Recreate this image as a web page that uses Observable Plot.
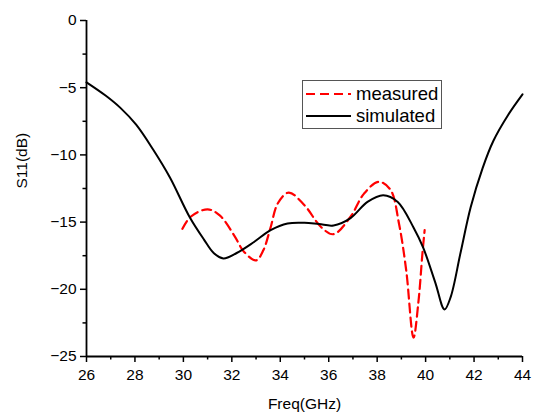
<!DOCTYPE html>
<html>
<head>
<meta charset="utf-8">
<script src="https://cdn.jsdelivr.net/npm/d3@7"></script>
<script src="https://cdn.jsdelivr.net/npm/@observablehq/plot@0.6"></script>
<style>
  body { margin: 0; background: #fff; }
  #wrap { position: relative; width: 539px; height: 414px; font-family: "Liberation Sans", Arial, sans-serif; }
  #legend { position: absolute; left: 302px; top: 80px; width: 138px; height: 47px; border: 1px solid #555; background: #fff; }
  .row { position: absolute; left: 0; height: 22px; display: flex; align-items: center; font-size: 18.5px; color: #000; }
  .row svg { margin-left: 3px; margin-right: 5px; }
</style>
</head>
<body>
<div id="wrap"></div>
<script>
const simFreq = [26, 26.8, 27.4, 28.05, 28.75, 29.45, 30.25, 30.85, 31.25, 31.65, 32.2, 32.9, 33.6, 34.3, 35.0, 35.6, 36.2, 36.9, 37.6, 38.25, 38.85, 39.5, 39.9, 40.4, 40.78, 41.03, 41.44, 41.86, 42.35, 42.8, 43.4, 44];
const simS11 = [-4.6, -5.6, -6.5, -7.75, -9.6, -11.7, -14.6, -16.3, -17.3, -17.7, -17.3, -16.5, -15.6, -15.1, -15.05, -15.15, -15.25, -14.7, -13.5, -13.0, -13.5, -15.4, -16.9, -19.5, -21.5, -20.6, -17.3, -13.9, -11.0, -8.95, -7.05, -5.5];
const measFreq = [29.96, 30.3, 31.0, 31.5, 32.1, 32.5, 33.0, 33.3, 33.6, 33.9, 34.35, 35.0, 35.7, 36.2, 36.9, 37.45, 38.06, 38.55, 38.9, 39.2, 39.5, 39.7, 39.87, 39.96];
const measS11 = [-15.5, -14.6, -14.05, -14.5, -16.0, -17.2, -17.85, -17.1, -15.4, -13.6, -12.8, -13.75, -15.4, -15.9, -14.6, -12.9, -12.0, -12.6, -15.1, -18.6, -23.6, -21.0, -17.3, -15.6];
const xMajor = [26, 28, 30, 32, 34, 36, 38, 40, 42, 44];
const xMinor = [27, 29, 31, 33, 35, 37, 39, 41, 43];
const yMajor = [0, -5, -10, -15, -20, -25];
const yMinor = [-2.5, -7.5, -12.5, -17.5, -22.5];
const seriesNames = ["measured", "simulated"];

const sim = simFreq.map((f, i) => ({f, s: simS11[i]}));
const meas = measFreq.map((f, i) => ({f, s: measS11[i]}));

const font = '"Liberation Sans", Arial, sans-serif';
const chart = Plot.plot({
  width: 539,
  height: 414,
  marginLeft: 86,
  marginRight: 17,
  marginTop: 20,
  marginBottom: 58,
  style: {fontFamily: font, fontSize: "15.5px", color: "#000", background: "#fff"},
  x: {domain: [26, 44]},
  y: {domain: [-25, 0]},
  marks: [
    Plot.axisX(xMajor, {tickSize: 6, tickPadding: 6, fontSize: 15.5, strokeWidth: 1.5, label: null}),
    Plot.axisX(xMinor, {tickSize: 3.5, text: null, strokeWidth: 1.5, label: null}),
    Plot.axisY(yMajor, {tickSize: 6, tickPadding: 4, fontSize: 15.5, strokeWidth: 1.5, label: null}),
    Plot.axisY(yMinor, {tickSize: 3.5, text: null, strokeWidth: 1.5, label: null}),
    Plot.ruleY([-25], {strokeWidth: 1.8}),
    Plot.ruleX([26], {strokeWidth: 1.8}),
    Plot.line(meas, {x: "f", y: "s", stroke: "#ff0000", strokeWidth: 2.2, strokeDasharray: "9,5", curve: "catmull-rom"}),
    Plot.line(sim, {x: "f", y: "s", stroke: "#000", strokeWidth: 2, curve: "catmull-rom"}),
    Plot.text(["Freq(GHz)"], {frameAnchor: "bottom", dy: 48, fontSize: 15.5, lineAnchor: "middle"}),
    Plot.text(["S11(dB)"], {frameAnchor: "left", dx: -64, rotate: -90, fontSize: 15.5})
  ]
});
const wrap = document.getElementById("wrap");
wrap.appendChild(chart);

const legend = document.createElement("div");
legend.id = "legend";
const styles = [{stroke: "#ff0000", dash: "9,5", top: 2}, {stroke: "#000", dash: "none", top: 24}];
seriesNames.forEach((name, i) => {
  const row = document.createElement("div");
  row.className = "row";
  row.style.top = styles[i].top + "px";
  row.innerHTML = `<svg width="45" height="6"><line x1="0" y1="3" x2="45" y2="3" stroke="${styles[i].stroke}" stroke-width="2.2" stroke-dasharray="${styles[i].dash}"/></svg><span>${name}</span>`;
  legend.appendChild(row);
});
wrap.appendChild(legend);
</script>
</body>
</html>
